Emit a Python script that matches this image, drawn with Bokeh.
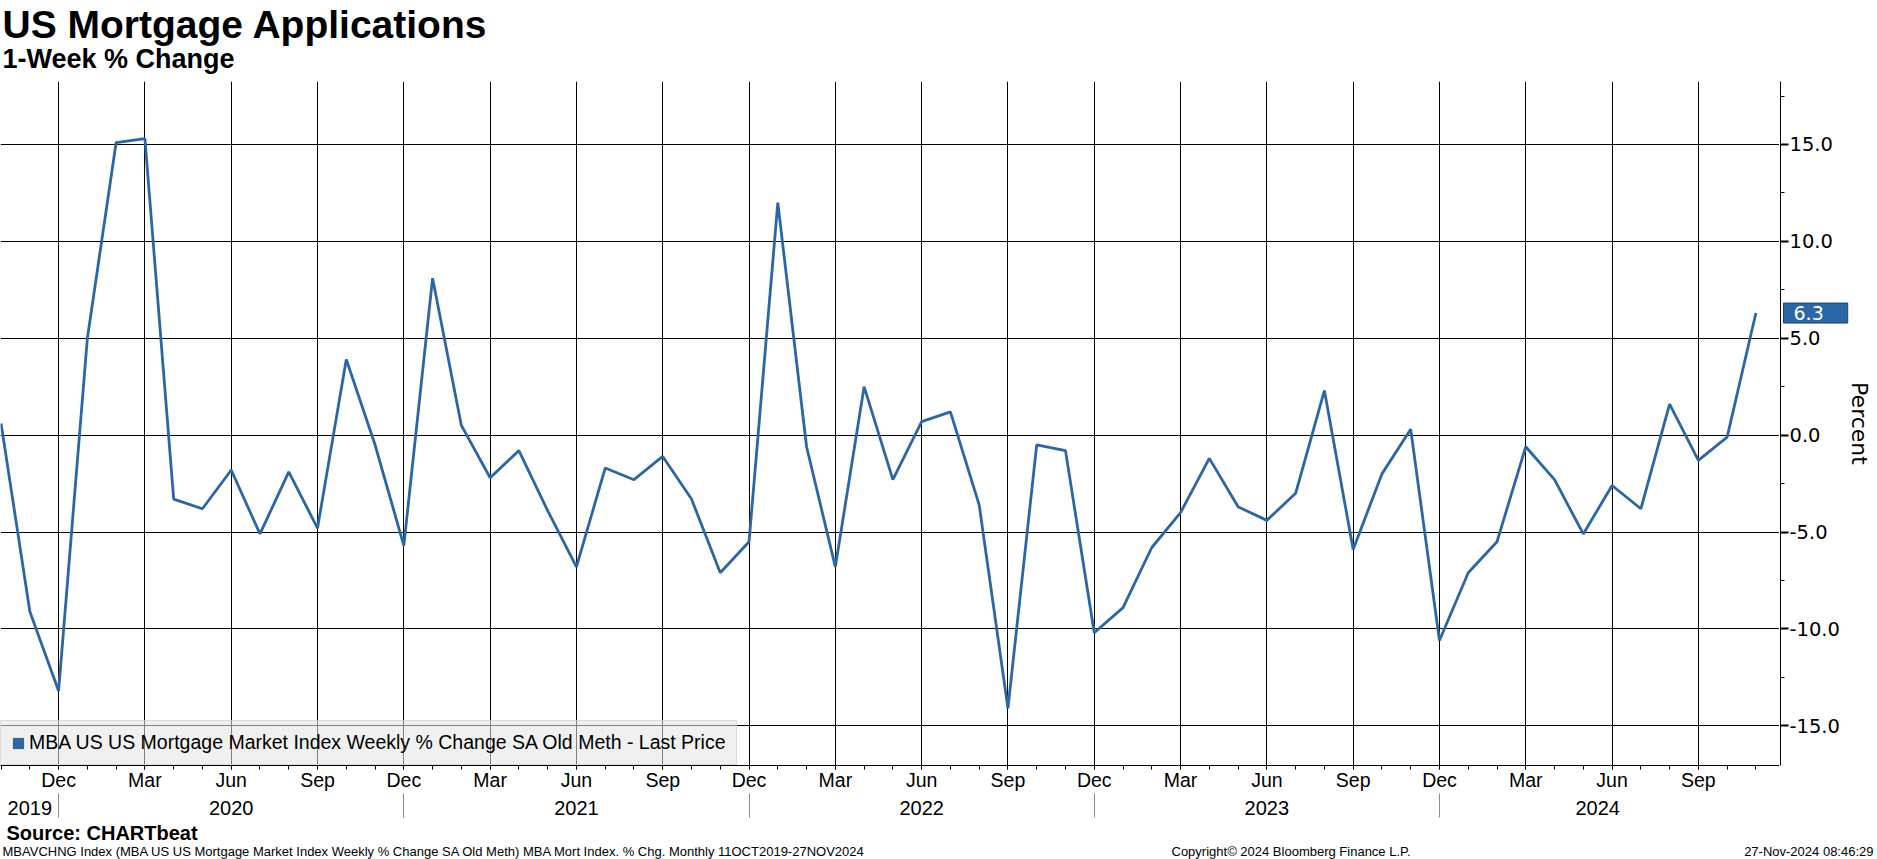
import pandas as pd
from bokeh.plotting import figure
from bokeh.layouts import column, row
from bokeh.models import (Range1d, FixedTicker, SingleIntervalTicker, PrintfTickFormatter,
                          LinearAxis, Legend, LegendItem, Label)
from bokeh.core.properties import value
from bokeh.embed import file_html
from bokeh.resources import INLINE

# ---------------- data ----------------
months = [str(m) for m in pd.period_range("2019-10", "2024-11", freq="M")]
weekly_pct_change = [
    0.6, -9.1, -13.2,                                                        # 2019 Oct-Dec
    5.0, 15.1, 15.3, -3.3, -3.8, -1.8, -5.1, -1.9, -4.8, 3.9, -0.5, -5.7,    # 2020
    8.1, 0.5, -2.2, -0.8, -3.9, -6.8, -1.7, -2.3, -1.1, -3.3, -7.1, -5.5,    # 2021
    12.0, -0.6, -6.8, 2.5, -2.3, 0.7, 1.2, -3.6, -14.1, -0.5, -0.8, -10.2,   # 2022
    -8.9, -5.8, -4.0, -1.2, -3.7, -4.4, -3.0, 2.3, -5.9, -2.0, 0.3, -10.6,   # 2023
    -7.1, -5.5, -0.6, -2.3, -5.1, -2.6, -3.8, 1.6, -1.3, -0.1, 6.3,          # 2024 Jan-Nov
]
series_name = "MBA US US Mortgage Market Index Weekly % Change SA Old Meth - Last Price"
title_text = "US Mortgage Applications"
subtitle_text = "1-Week % Change"
y_label = "Percent"
source_text = "Source: CHARTbeat"
footnote_text = ("MBAVCHNG Index (MBA US US Mortgage Market Index Weekly % Change SA Old Meth) "
                 "MBA Mort Index. % Chg.  Monthly 11OCT2019-27NOV2024")
copyright_text = "Copyright\u00a9 2024 Bloomberg Finance L.P."
stamp_text = "27-Nov-2024 08:46:29"
month_abbr = {12: "Dec", 3: "Mar", 6: "Jun", 9: "Sep"}

# ---------------- derived tick positions ----------------
x = list(range(len(months)))
mnum = [int(m[5:7]) for m in months]
ynum = [int(m[:4]) for m in months]
quarter_idx = [i for i in x if mnum[i] in month_abbr]
quarter_lbl = {i: month_abbr[mnum[i]] for i in quarter_idx}
dec_idx = [i for i in x if mnum[i] == 12]
years = sorted(set(ynum))
year_pos = []
for yr in years:
    lo = max([d for d in dec_idx if ynum[d] == yr - 1], default=x[0])
    hi = min([d for d in dec_idx if ynum[d] == yr], default=x[-1])
    year_pos.append((lo + hi) / 2)
year_lbl = {pos: str(yr) for pos, yr in zip(year_pos, years)}

BLUE = "#2b67a4"
FONT = "Liberation Sans"
W, H = 1877, 859
HDR_H, FTR_H = 76, 38
FRAME_W, FRAME_H = 1779, 684
TOP_B, BOT_B = 5, 56

y_rng = Range1d(-17.05, 18.25)

# ---------------- main plot ----------------
p = figure(frame_width=FRAME_W, frame_height=FRAME_H, output_backend="svg",
           toolbar_location=None, title=None,
           x_range=Range1d(-0.02, x[-1] + 0.82), y_range=y_rng,
           y_axis_location=None,
           min_border_left=0, min_border_right=0,
           min_border_top=TOP_B, min_border_bottom=BOT_B)
p.outline_line_color = None
p.background_fill_color = "white"
p.border_fill_color = "white"
p.ygrid.ticker = SingleIntervalTicker(interval=5)
p.grid.grid_line_color = "black"
p.grid.grid_line_width = 1

xa = p.xaxis[0]
xa.ticker = FixedTicker(ticks=quarter_idx, minor_ticks=x)
xa.major_label_overrides = quarter_lbl
xa.axis_line_color = "black"
xa.major_tick_line_color = "black"
xa.minor_tick_line_color = "black"
xa.major_tick_out = 4
xa.major_tick_in = 0
xa.minor_tick_out = 4
xa.minor_tick_in = 0
xa.major_label_standoff = -1
xa.major_label_text_font = FONT
xa.major_label_text_font_size = "19.5px"
xa.major_label_text_color = "black"

yr_axis = LinearAxis(ticker=FixedTicker(ticks=year_pos, minor_ticks=dec_idx),
                     major_label_overrides=year_lbl,
                     axis_line_color=None, major_tick_line_color=None,
                     major_tick_out=0, major_tick_in=0,
                     minor_tick_out=24, minor_tick_in=0, minor_tick_line_color="#8a8a8a",
                     major_label_standoff=-17, major_label_text_font=FONT,
                     major_label_text_font_size="20px", major_label_text_color="black")
p.add_layout(yr_axis, "below")

p.line(x, weekly_pct_change, line_color=BLUE, line_width=2.8)

nan = float("nan")
swatch = p.quad(left=[nan], right=[nan], top=[nan], bottom=[nan],
                fill_color=BLUE, line_color=None)
legend = Legend(items=[LegendItem(label=series_name, renderers=[swatch])],
                location=(0, 0), margin=0, padding=10, spacing=0,
                glyph_width=14, glyph_height=14, label_standoff=4, label_height=20,
                label_text_font=FONT, label_text_font_size="19.5px", label_text_color="black",
                background_fill_color="#e4e4e4", background_fill_alpha=0.56,
                border_line_color="#c8c8c8", border_line_width=1)
p.add_layout(legend)

# ---------------- right axis strip ----------------
s = figure(frame_width=1, frame_height=FRAME_H, output_backend="svg",
           toolbar_location=None, title=None,
           x_range=Range1d(0, 1), y_range=y_rng,
           x_axis_location=None, y_axis_location="right",
           min_border_left=0, min_border_right=W - FRAME_W - 1,
           min_border_top=TOP_B, min_border_bottom=BOT_B)
s.outline_line_color = None
s.grid.visible = False
s.background_fill_color = "white"
s.border_fill_color = "white"
ya = s.yaxis[0]
ya.ticker = SingleIntervalTicker(interval=5, num_minor_ticks=2)
ya.formatter = PrintfTickFormatter(format="%.1f")
ya.axis_line_color = "black"
ya.major_tick_line_color = "black"
ya.minor_tick_line_color = "black"
ya.major_tick_out = 8
ya.major_tick_in = 0
ya.minor_tick_out = 4
ya.minor_tick_in = 0
ya.major_tick_line_width = 2
ya.major_label_standoff = 1
ya.major_label_text_font = "DejaVu Sans"
ya.major_label_text_font_size = "19.5px"
ya.major_label_text_color = "black"
ya.axis_label = y_label
ya.axis_label_text_font = "DejaVu Sans"
ya.axis_label_text_font_size = "22px"
ya.axis_label_text_font_style = "normal"
ya.axis_label_text_color = "black"
ya.axis_label_standoff = 4

last = weekly_pct_change[-1]
tag = Label(x=4, y=last, text=f"{last:.1f}", text_color="white",
            text_baseline="middle", text_align="left",
            text_font="DejaVu Sans", text_font_size="19px",
            background_fill_color=BLUE, background_fill_alpha=1,
            border_line_color="#1c416b", border_line_width=1,
            padding=dict(left=10, right=24, top=3, bottom=3))
s.add_layout(tag, "below")

# ---------------- header / footer strips ----------------
def strip(height):
    f = figure(width=W, height=height, output_backend="svg", toolbar_location=None,
               title=None, x_range=Range1d(0, W), y_range=Range1d(height, 0),
               x_axis_location=None, y_axis_location=None, min_border=0)
    f.outline_line_color = None
    f.grid.visible = False
    f.background_fill_color = "white"
    f.border_fill_color = "white"
    return f

hdr = strip(HDR_H)
hdr.text(x=[2], y=[24], text=[title_text], text_font=value(FONT), text_font_style="bold",
         text_font_size="39px", text_color="black", text_baseline="middle")
hdr.text(x=[2], y=[58.5], text=[subtitle_text], text_font=value(FONT), text_font_style="bold",
         text_font_size="27px", text_color="black", text_baseline="middle")

ftr = strip(FTR_H)
ftr.text(x=[6], y=[11], text=[source_text], text_font=value(FONT), text_font_style="bold",
         text_font_size="20px", text_color="black", text_baseline="middle")
ftr.text(x=[2, 1171], y=[30, 30], text=[footnote_text, copyright_text], text_font=value(FONT),
         text_font_size="13px", text_color="black", text_baseline="middle")
ftr.text(x=[1873], y=[30], text=[stamp_text], text_font=value(FONT), text_align="right",
         text_font_size="13px", text_color="black", text_baseline="middle")

layout = column(hdr, row(p, s), ftr)
open("out.html", "w").write(file_html(layout, INLINE))
